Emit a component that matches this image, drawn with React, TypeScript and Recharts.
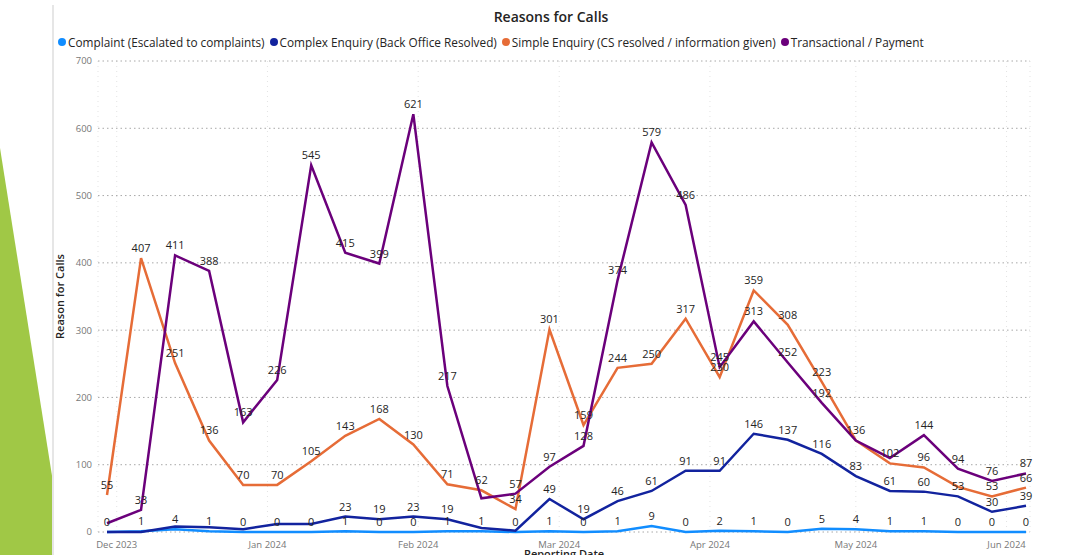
import { LineChart, Line, XAxis, YAxis, CartesianGrid } from 'recharts'

const weeks = [
  '2023-11-29', '2023-12-06', '2023-12-13', '2023-12-20', '2023-12-27',
  '2024-01-03', '2024-01-10', '2024-01-17', '2024-01-24', '2024-01-31',
  '2024-02-07', '2024-02-14', '2024-02-21', '2024-02-28', '2024-03-06',
  '2024-03-13', '2024-03-20', '2024-03-27', '2024-04-03', '2024-04-10',
  '2024-04-17', '2024-04-24', '2024-05-01', '2024-05-08', '2024-05-15',
  '2024-05-22', '2024-05-29', '2024-06-05',
]

const complaint = [0, 1, 4, 1, 0, 0, 0, 1, 0, 0, 1, 1, 0, 1, 0, 1, 9, 0, 2, 1, 0, 5, 4, 1, 1, 0, 0, 0]
const complexEnquiry = [0, 0, 8, 7, 4, 12, 12, 23, 19, 23, 19, 6, 2, 49, 19, 46, 61, 91, 91, 146, 137, 116, 83, 61, 60, 53, 30, 39]
const simpleEnquiry = [55, 407, 251, 136, 70, 70, 105, 143, 168, 130, 71, 62, 34, 301, 159, 244, 250, 317, 230, 359, 308, 223, 136, 102, 96, 67, 53, 66]
const transactional = [13, 33, 411, 388, 163, 226, 545, 415, 399, 621, 217, 50, 57, 97, 128, 374, 579, 486, 245, 313, 252, 192, 136, 110, 144, 94, 76, 87]

// labels Power BI dropped because they collided with another one
const hiddenComplex = [0, 1, 2, 3, 4, 5, 6, 11, 12]
const hiddenSimple = [22, 25]
const hiddenTransactional = [0, 11, 23]

const monthTicks = ['2023-12-01', '2024-01-01', '2024-02-01', '2024-03-01', '2024-04-01', '2024-05-01', '2024-06-01']
const yTicks = [0, 100, 200, 300, 400, 500, 600, 700]

const MONTHS = ['Jan', 'Feb', 'Mar', 'Apr', 'May', 'Jun', 'Jul', 'Aug', 'Sep', 'Oct', 'Nov', 'Dec']

const series = [
  { key: 'complaint', name: 'Complaint (Escalated to complaints)', color: '#118DFF', hidden: [] as number[] },
  { key: 'complex', name: 'Complex Enquiry (Back Office Resolved)', color: '#12239E', hidden: hiddenComplex },
  { key: 'simple', name: 'Simple Enquiry (CS resolved / information given)', color: '#E66C37', hidden: hiddenSimple },
  { key: 'transactional', name: 'Transactional / Payment', color: '#6B007B', hidden: hiddenTransactional },
]

const data = weeks.map((w, i) => ({
  date: new Date(w).getTime(),
  complaint: complaint[i],
  complex: complexEnquiry[i],
  simple: simpleEnquiry[i],
  transactional: transactional[i],
}))

const FONT = '"Segoe UI", "Open Sans", sans-serif'

function formatMonth(t: number) {
  const d = new Date(t)
  return `${MONTHS[d.getUTCMonth()]} ${d.getUTCFullYear()}`
}

function makeLabel(hidden: number[]) {
  return (props: any) => {
    const { x, y, value, index } = props
    if (hidden.includes(index)) return null
    return (
      <text x={x} y={y - 6} textAnchor="middle" fontSize={11} fill="#252423" fontFamily={FONT}>
        {value}
      </text>
    )
  }
}

export default function App() {
  return (
    <div
      style={{
        position: 'absolute',
        left: 0,
        top: 0,
        width: 1079,
        height: 555,
        overflow: 'hidden',
        background: '#fff',
        fontFamily: FONT,
      }}
    >
      <svg width={60} height={555} style={{ position: 'absolute', left: 0, top: 0 }}>
        <polygon points="0,148 53,482 53,555 0,555" fill="#A0C846" />
        <rect x={52} y={5} width={2} height={550} fill="#E6E6E6" />
      </svg>

      <div
        style={{
          position: 'absolute',
          top: 7,
          left: 0,
          width: 1102,
          textAlign: 'center',
          fontSize: 14,
          fontWeight: 600,
          color: '#252423',
        }}
      >
        Reasons for Calls
      </div>

      <div
        style={{
          position: 'absolute',
          top: 34,
          left: 58,
          display: 'flex',
          gap: 5,
          fontSize: 11.8,
          color: '#252423',
          whiteSpace: 'nowrap',
        }}
      >
        {series.map((s) => (
          <div key={s.key} style={{ display: 'flex', alignItems: 'center' }}>
            <span
              style={{
                width: 8,
                height: 8,
                borderRadius: 4,
                background: s.color,
                display: 'inline-block',
                marginRight: 2,
              }}
            />
            {s.name}
          </div>
        ))}
      </div>

      <LineChart
        width={1079}
        height={555}
        data={data}
        margin={{ top: 61, right: 49, bottom: 0, left: 60 }}
        style={{ position: 'absolute', left: 0, top: 0 }}
      >
        <CartesianGrid horizontal={false} stroke="#E3E3E3" strokeDasharray="1 4" />
        <CartesianGrid vertical={false} stroke="#A8A8A8" strokeDasharray="1.5 3" />
        <XAxis
          dataKey="date"
          type="number"
          scale="time"
          domain={['dataMin', 'dataMax']}
          padding={{ left: 9, right: 4 }}
          ticks={monthTicks.map((m) => new Date(m).getTime())}
          tickFormatter={formatMonth}
          axisLine={false}
          tickLine={false}
          tickSize={0}
          tickMargin={9}
          height={23}
          tick={{ fontSize: 9.5, fill: '#777', fontFamily: FONT }}
        />
        <YAxis
          domain={[0, 700]}
          ticks={yTicks}
          axisLine={false}
          tickLine={false}
          tickSize={0}
          tickMargin={6}
          width={38}
          tick={{ fontSize: 9.5, fill: '#777', fontFamily: FONT }}
          label={{
            value: 'Reason for Calls',
            angle: -90,
            position: 'insideLeft',
            offset: 0,
            style: { textAnchor: 'middle', fontSize: 11, fontWeight: 600, fill: '#252423', fontFamily: FONT },
          }}
        />
        {series.map((s) => (
          <Line
            key={s.key}
            dataKey={s.key}
            name={s.name}
            type="linear"
            stroke={s.color}
            strokeWidth={2.5}
            dot={false}
            activeDot={false}
            isAnimationActive={false}
            label={makeLabel(s.hidden)}
          />
        ))}
      </LineChart>

      <div
        style={{
          position: 'absolute',
          top: 546,
          left: 0,
          width: 1128,
          textAlign: 'center',
          fontSize: 11,
          fontWeight: 600,
          color: '#252423',
        }}
      >
        Reporting Date
      </div>
    </div>
  )
}
